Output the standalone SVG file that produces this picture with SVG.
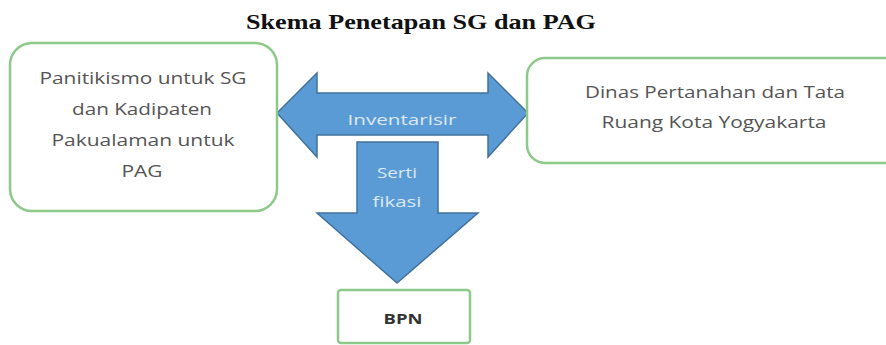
<svg xmlns="http://www.w3.org/2000/svg" width="886" height="345" viewBox="0 0 886 345">
<style>
.box{fill:#fff;stroke:#8CC98A;stroke-width:2.5}
.arrow{fill:#5B9BD5;stroke:#41719C;stroke-width:1.5}
.t{font-family:"Open Sans","Liberation Sans",sans-serif;font-size:16px;fill:#555;text-anchor:middle}
.at{font-family:"Open Sans","Liberation Sans",sans-serif;font-size:15px;fill:#DCE8F5;text-anchor:middle}
</style>
<rect width="886" height="345" fill="#fff"/>
<text x="421" y="29" font-family="'Liberation Serif',serif" font-weight="bold" font-size="21" text-anchor="middle" fill="#111" textLength="350" lengthAdjust="spacingAndGlyphs">Skema Penetapan SG dan PAG</text>
<g id="connectors">
<path class="arrow" d="M277,113 L317,73 L317,93 L488,93 L488,73 L528,113 L488,157 L488,135 L317,135 L317,157 Z"/>
<path class="arrow" d="M357,142 L438,142 L438,213 L478,213 L397,283 L317,213 L357,213 Z"/>
<text class="at" x="402" y="125" textLength="109" lengthAdjust="spacingAndGlyphs">Inventarisir</text>
<text class="at" x="397" y="178" textLength="40" lengthAdjust="spacingAndGlyphs">Serti</text>
<text class="at" x="397" y="207" textLength="49" lengthAdjust="spacingAndGlyphs">fikasi</text>
</g>
<g id="node-panitikismo">
<rect class="box" x="10" y="43" width="267" height="168" rx="22"/>
<text class="t" x="143" y="84" textLength="207" lengthAdjust="spacingAndGlyphs">Panitikismo untuk SG</text>
<text class="t" x="142" y="115" textLength="140" lengthAdjust="spacingAndGlyphs">dan Kadipaten</text>
<text class="t" x="143" y="146" textLength="183" lengthAdjust="spacingAndGlyphs">Pakualaman  untuk</text>
<text class="t" x="142" y="177" textLength="41" lengthAdjust="spacingAndGlyphs">PAG</text>
</g>
<g id="node-dinas">
<rect class="box" x="527" y="58" width="380" height="105" rx="18"/>
<text class="t" x="715" y="98" textLength="260" lengthAdjust="spacingAndGlyphs">Dinas Pertanahan dan Tata</text>
<text class="t" x="714" y="128" textLength="225" lengthAdjust="spacingAndGlyphs">Ruang Kota Yogyakarta</text>
</g>
<g id="node-bpn">
<rect class="box" x="338" y="290" width="132" height="53" rx="3"/>
<text x="403" y="324" font-family="'Open Sans','Liberation Sans',sans-serif" font-size="14" font-weight="bold" fill="#333" text-anchor="middle" textLength="39" lengthAdjust="spacingAndGlyphs">BPN</text>
</g>
</svg>
